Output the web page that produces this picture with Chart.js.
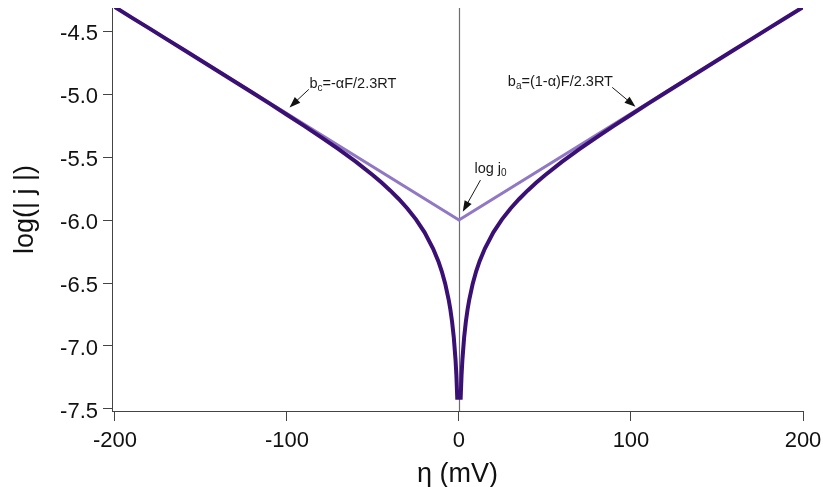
<!DOCTYPE html>
<html>
<head>
<meta charset="utf-8">
<script src="https://cdn.jsdelivr.net/npm/chart.js@4/dist/chart.umd.min.js"></script>
<style>
  html, body { margin: 0; padding: 0; background: #fff; }
  #wrap { width: 823px; height: 487px; position: relative; }
</style>
</head>
<body>
<div id="wrap"><canvas id="c"></canvas></div>
<script>
// Overpotential (mV) and log|j|
const etaValues = [-200,-190,-180,-170,-160,-150,-140,-130,-120,-110,-100,-90,-80,-70,-60,-50,-45,-40,-35,-30,-25,-20,-15,-12,-10,-8,-6,-5,-4,-3,-2,-1.5,-1,0,
                   1,1.5,2,3,4,5,6,8,10,12,15,20,25,30,35,40,45,50,60,70,80,90,100,110,120,130,140,150,160,170,180,190,200];
const logJValues = [-4.310,-4.395,-4.479,-4.564,-4.648,-4.734,-4.819,-4.904,-4.990,-5.076,-5.164,-5.253,-5.344,-5.438,-5.537,-5.644,-5.703,-5.765,-5.833,-5.908,-5.995,-6.098,-6.228,-6.327,-6.407,-6.505,-6.631,-6.710,-6.807,-6.933,-7.109,-7.234,-7.410,-7.410,
                    -7.410,-7.234,-7.109,-6.933,-6.807,-6.710,-6.631,-6.505,-6.407,-6.327,-6.228,-6.098,-5.995,-5.908,-5.833,-5.765,-5.703,-5.644,-5.537,-5.438,-5.344,-5.253,-5.164,-5.076,-4.990,-4.904,-4.819,-4.734,-4.648,-4.564,-4.479,-4.395,-4.310];
// Tafel extrapolation lines
const tafelEta = [-200, 0, 200];
const tafelLogJ = [-4.31, -6.00, -4.31];
// Tick labels
const xTicks = [-200, -100, 0, 100, 200];
const yTicks = [-4.5, -5.0, -5.5, -6.0, -6.5, -7.0, -7.5];

const FONT = "'Liberation Sans', Arial, sans-serif";

// annotations in data coordinates
const notes = [
  { parts: [['b',''],['c','sub'],['=-\u03b1F/2.3RT','']], tx: -86.9, ty: -4.952, ax: -87.3, ay: -4.963, bx: -98.5, by: -5.106 },
  { parts: [['b',''],['a','sub'],['=(1-\u03b1)F/2.3RT','']], tx: 28.4, ty: -4.937, ax: 89.1, ay: -4.947, bx: 102.6, by: -5.101 },
  { parts: [['log j',''],['0','sub']], tx: 9.0, ty: -5.625, ax: 12.5, ay: -5.683, bx: 2.2, by: -5.934 }
];

const overlay = {
  id: 'overlay',
  beforeDatasetsDraw(chart) {
    const { ctx, chartArea, scales: { x } } = chart;
    const px = Math.round(x.getPixelForValue(0)) + 0.5;
    ctx.save();
    ctx.strokeStyle = '#6e6e6e';
    ctx.lineWidth = 1.2;
    ctx.beginPath();
    ctx.moveTo(px, chartArea.top);
    ctx.lineTo(px, chartArea.bottom);
    ctx.stroke();
    ctx.restore();
  },
  afterDatasetsDraw(chart) {
    const { ctx, scales: { x, y } } = chart;
    ctx.save();
    for (const n of notes) {
      let cx = x.getPixelForValue(n.tx);
      const by = y.getPixelForValue(n.ty);
      ctx.fillStyle = '#1a1a1a';
      ctx.textBaseline = 'alphabetic';
      ctx.textAlign = 'left';
      for (const [t, kind] of n.parts) {
        if (kind === 'sub') {
          ctx.font = '10px ' + FONT;
          ctx.fillText(t, cx, by + 3);
        } else {
          ctx.font = '14.5px ' + FONT;
          ctx.fillText(t, cx, by);
        }
        cx += ctx.measureText(t).width;
      }
      const x0 = x.getPixelForValue(n.ax), y0 = y.getPixelForValue(n.ay);
      const x1 = x.getPixelForValue(n.bx), y1 = y.getPixelForValue(n.by);
      const ang = Math.atan2(y1 - y0, x1 - x0);
      const L = 11, W = 4;
      ctx.strokeStyle = '#1a1a1a';
      ctx.lineWidth = 1;
      ctx.beginPath();
      ctx.moveTo(x0, y0);
      ctx.lineTo(x1 - Math.cos(ang) * L * 0.8, y1 - Math.sin(ang) * L * 0.8);
      ctx.stroke();
      ctx.beginPath();
      ctx.moveTo(x1, y1);
      ctx.lineTo(x1 - Math.cos(ang) * L - Math.sin(ang) * W, y1 - Math.sin(ang) * L + Math.cos(ang) * W);
      ctx.lineTo(x1 - Math.cos(ang) * L + Math.sin(ang) * W, y1 - Math.sin(ang) * L - Math.cos(ang) * W);
      ctx.closePath();
      ctx.fillStyle = '#111';
      ctx.fill();
    }
    ctx.restore();
  }
};

new Chart(document.getElementById('c'), {
  type: 'line',
  data: {
    datasets: [
      {
        label: 'log|j|',
        data: etaValues.map((v, i) => ({ x: v, y: logJValues[i] })),
        borderColor: '#3b1075',
        borderWidth: 4,
        pointRadius: 0,
        tension: 0,
        order: 1
      },
      {
        label: 'Tafel',
        data: tafelEta.map((v, i) => ({ x: v, y: tafelLogJ[i] })),
        borderColor: '#9078c4',
        borderWidth: 3,
        pointRadius: 0,
        tension: 0,
        order: 2
      }
    ]
  },
  options: {
    responsive: true,
    maintainAspectRatio: false,
    animation: false,
    layout: { padding: { left: 0, top: 8, right: 20, bottom: 0 } },
    plugins: { legend: { display: false }, tooltip: { enabled: false } },
    scales: {
      x: {
        type: 'linear',
        min: -201.7,
        max: 200,
        afterFit(s) { s.height = 76; s.paddingLeft = 0; s.paddingRight = 0; },
        afterBuildTicks(s) { s.ticks = xTicks.map(v => ({ value: v })); },
        grid: { drawOnChartArea: false, drawTicks: true, tickLength: 10, color: '#444', tickWidth: 1 },
        border: { display: true, color: '#444', width: 1 },
        ticks: { color: '#111', font: { family: FONT, size: 22 }, padding: 7, maxRotation: 0, autoSkip: false,
                 callback: v => String(v) },
        title: { display: true, text: '\u03b7 (mV)', color: '#111', font: { family: FONT, size: 27, lineHeight: 1 }, padding: { top: 0, bottom: -1 } }
      },
      y: {
        type: 'linear',
        min: -7.516,
        max: -4.317,
        afterFit(s) { s.width = 112; s.paddingTop = 0; s.paddingBottom = 0; },
        afterBuildTicks(s) { s.ticks = yTicks.map(v => ({ value: v })); },
        grid: { drawOnChartArea: false, drawTicks: true, tickLength: 9, color: '#444', tickWidth: 1 },
        border: { display: true, color: '#444', width: 1 },
        ticks: { color: '#111', font: { family: FONT, size: 22 }, padding: 5, labelOffset: 3, autoSkip: false,
                 callback: v => v.toFixed(1) },
        title: { display: true, text: 'log(| j |)', color: '#111', font: { family: FONT, size: 27, lineHeight: 1.2 }, padding: { top: 9, bottom: 0 } }
      }
    }
  },
  plugins: [overlay]
});
</script>
</body>
</html>
